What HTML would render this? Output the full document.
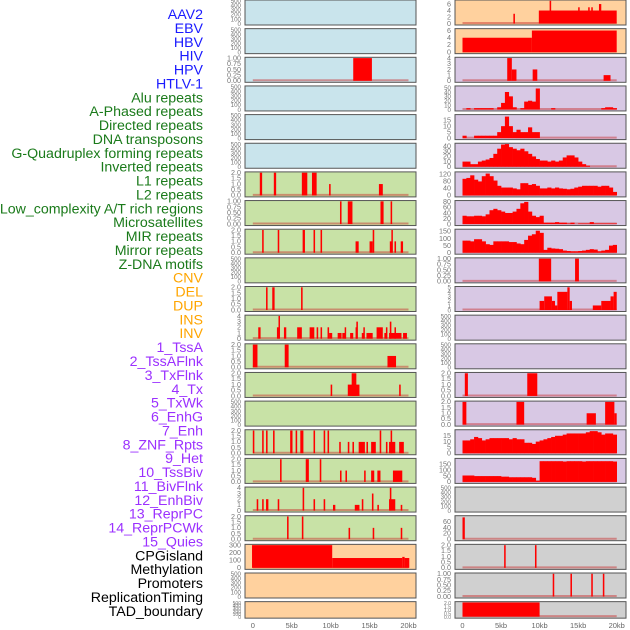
<!DOCTYPE html>
<html><head><meta charset="utf-8">
<style>
html,body{margin:0;padding:0;background:#fff;}
svg{display:block;}
text{font-family:"Liberation Sans",sans-serif;}
</style></head>
<body>
<svg id="chart" width="630" height="630" viewBox="0 0 630 630" xmlns="http://www.w3.org/2000/svg"></svg>
<script>
// ---- labels ----
const trackLabels = ["AAV2","EBV","HBV","HIV","HPV","HTLV-1","Alu repeats","A-Phased repeats","Directed repeats","DNA transposons","G-Quadruplex forming repeats","Inverted repeats","L1 repeats","L2 repeats","Low_complexity A/T rich regions","Microsatellites","MIR repeats","Mirror repeats","Z-DNA motifs","CNV","DEL","DUP","INS","INV","1_TssA","2_TssAFlnk","3_TxFlnk","4_Tx","5_TxWk","6_EnhG","7_Enh","8_ZNF_Rpts","9_Het","10_TssBiv","11_BivFlnk","12_EnhBiv","13_ReprPC","14_ReprPCWk","15_Quies","CPGisland","Methylation","Promoters","ReplicationTiming","TAD_boundary"];
const labelGroups = [6,13,5,15,5];
const groupColors = ["#1a1aff","#1a7a1a","#ffa500","#9b30ff","#000000"];
const xTickLabels = ["0","5kb","10kb","15kb","20kb"];
const xTickValues = [0,5,10,15,20];

// ---- left column: backgrounds, ticks, bars [startKb,endKb,value] ----
const leftBg = ["#c9e4ec","#c9e4ec","#c9e4ec","#c9e4ec","#c9e4ec","#c9e4ec","#c8e2a6","#c8e2a6","#c8e2a6","#c8e2a6","#c8e2a6","#c8e2a6","#c8e2a6","#c8e2a6","#c8e2a6","#c8e2a6","#c8e2a6","#c8e2a6","#c8e2a6","#ffd19e","#ffd19e","#ffd19e"];
const T500 = ["0","100","200","300","400","500"];
const T1 = ["0.00","0.25","0.50","0.75","1.00"];
const T2 = ["0.0","0.5","1.0","1.5","2.0"];
const T4 = ["0","1","2","3","4"];
const leftTicks = [T500,T500,T1,T500,T500,T500,T2,T1,T2,T500,T2,T4,T2,T2,T500,T2,T2,T4,T2,["0","100","200","300"],T500,T500];
const leftBars = [
 [],[],
 [[12.9,15.3,1]],
 [],[],[],
 [[0.9,1.2,2],[2.7,3.0,2],[6.3,7.0,2],[7.6,8.2,2],[9.8,10.0,1],[16.2,16.7,1]],
 [[11.2,11.4,1],[12.2,12.8,1],[16.4,16.8,1],[17.7,17.9,1]],
 [[1.2,1.4,2],[3.2,3.4,2],[6.4,6.7,2],[7.8,8.0,2],[8.7,8.9,2],[13.2,13.6,1],[15.0,15.4,1],[15.4,15.6,2],[17.6,17.9,1],[17.8,17.9,2],[18.2,18.4,1],[19.0,19.3,1]],
 [],
 [[1.7,1.9,2],[2.5,2.8,2],[6.2,6.4,2]],
 [[0.7,1.0,2],[3.1,3.4,2],[3.3,3.4,4],[4.0,4.3,2],[5.7,6.3,2],[7.3,7.9,2],[8.2,8.4,2],[8.7,8.9,2],[9.6,9.8,2],[9.8,10.2,1],[10.9,11.4,1],[11.5,11.9,1],[11.8,11.9,2],[12.5,12.9,1],[13.3,13.5,3],[13.2,13.3,2],[14.0,14.3,1],[14.2,14.3,2],[14.6,15.4,1],[15.9,16.7,2],[16.9,17.2,1],[17.1,17.2,2],[17.5,19.1,1],[17.6,17.8,3],[18.2,18.3,2],[19.3,19.8,1]],
 [[0.0,0.6,2],[4.1,4.6,2],[17.3,18.4,1]],
 [[10.0,10.2,1],[12.2,13.7,1],[12.7,13.3,2],[18.8,19.0,1]],
 [],
 [[0,0.2,2],[1.2,1.4,2],[1.7,1.9,2],[2.6,2.8,2],[4.8,5.1,2],[5.5,5.7,2],[6.1,6.5,2],[7.8,8.0,2],[9.1,9.3,2],[9.6,9.8,2],[11.1,11.3,1],[12.2,12.4,1],[12.8,13.0,1],[13.6,14.4,1],[14.6,14.8,1],[15.2,15.8,1],[16.3,16.5,2],[17.1,17.3,1],[17.5,18.3,1],[17.7,17.9,2],[18.8,19.4,1]],
 [[3.5,3.7,2],[6.8,7.2,2],[8.6,8.8,2],[11.2,11.4,1],[11.9,12.1,1],[14.3,14.5,1],[15.2,15.6,1],[16.0,16.4,1],[18.0,19.2,1]],
 [[0.5,0.7,2],[1.2,1.4,2],[1.7,2.0,2],[3.2,3.4,2],[6.4,6.6,4],[7.8,8.0,2],[9.1,9.3,2],[10.3,10.6,1],[13.1,13.7,1],[14.0,14.2,2],[15.3,15.5,3],[16.0,16.2,1],[17.5,18.3,2],[17.6,17.8,4],[19.0,19.2,1]],
 [[4.4,4.6,2],[6.3,6.5,2],[12.3,12.5,1],[15.4,15.6,1],[19.0,19.2,1]],
 [[-0.1,10.2,300],[10.2,19.2,130],[19.2,19.5,145],[19.5,20.1,130]],
 [],[]
];
const leftMax = [500,500,1,500,500,500,2,1,2,500,2,4,2,2,500,2,2,4,2,300,500,500];

// ---- right column ----
const rightBg = ["#ffd19e","#ffd19e","#d8c8e4","#d8c8e4","#d8c8e4","#d8c8e4","#d8c8e4","#d8c8e4","#d8c8e4","#d8c8e4","#d8c8e4","#d8c8e4","#d8c8e4","#d8c8e4","#d8c8e4","#d8c8e4","#d8c8e4","#d0d0d0","#d0d0d0","#d0d0d0","#d0d0d0","#d0d0d0"];
const rightTicks = [["0","2","4","6"],["0","2","4","6"],T4,["0","10","20","30","40","50"],["0","5","10","15"],["0","10","20","30","40"],["0","40","80","120"],["0","20","40","60","80"],["0","50","100","150"],T1,["0","1","2","3","4","5"],T500,T500,T2,T2,["0","5","10","15"],["0","50","100","150"],T500,["0","20","40","60"],T2,T1,T2];
const rightMax = [7,6.3,4,52,19,44,130,82,160,1,5,500,500,2,2,19.5,195,500,78,2,1,2];
// binned step series (0.5kb bins) for dense tracks
const binsAlu = [0,3,0,3,3,3,3,3,0,5,15,40,30,5,0,3,18,20,18,48,0,0,0,3,0,0,0,0,0,0,0,0,0,0,0,0,3,5,5,3];
const binsAPhased = [2,0,0,2,2,2,2,2,2,5,10,18,10,5,7,5,5,9,5,5,0,0,0,0,0,0,0,0,0,0,0,0,0,0,0,0,0,0,0,0];
const binsDNA = [10,10,5,5,10,12,14,17,25,35,43,44,38,35,32,35,30,25,20,15,12,12,10,12,10,12,18,22,22,18,10,5,2,0,0,0,0,0,0,0];
const binsGQuad = [95,100,115,90,80,110,125,110,85,55,45,45,45,40,35,70,70,60,65,55,40,40,45,40,45,40,38,35,38,45,50,55,55,55,55,50,55,55,45,20];
const binsInverted = [30,28,28,30,30,28,35,50,55,50,45,40,40,45,55,75,80,45,30,25,30,5,5,5,7,5,5,2,5,0,2,2,2,7,2,2,2,2,2,2];
const binsL1 = [85,85,80,95,95,80,60,55,80,80,80,80,75,75,65,60,90,120,130,155,140,20,35,30,28,25,15,12,10,10,12,15,20,25,22,10,15,20,50,55];
const bins7Enh = [11,11,12,14,13,11,12,13,13,13,13,13,12,13,12,12,9,9,8,10,11,12,13,14,15,15,16,17,17,17,17,17,18,19,19,18,16,17,17,16];
const bins8ZNF = [55,55,55,50,50,50,50,50,50,50,45,45,40,40,40,40,40,40,35,10,178,178,178,178,178,178,175,178,178,178,178,175,178,178,178,178,178,178,178,175];
const rightBins = {3:binsAlu,4:binsAPhased,5:binsDNA,6:binsGQuad,7:binsInverted,8:binsL1,15:bins7Enh,16:bins8ZNF};
const rightBars = [
 [[6.6,6.8,3],[9.9,20,4],[11.3,11.5,7],[15.0,15.2,5],[16.3,16.5,5],[16.7,16.9,5],[17.7,18.0,6]],
 [[0,9.0,4],[9.0,20,6]],
 [[5.8,6.4,4],[6.4,7.0,2],[9.1,9.7,2],[18.3,19.2,1]],
 [],[],[],[],[],[],
 [[9.9,11.5,1],[14.6,15.1,1]],
 [[10,10.6,2],[10.6,11.6,3],[11.6,12,2],[12,12.3,1],[12.3,13.6,4],[13.6,13.9,5],[13.9,14.2,2],[16.9,18,1],[18,19.2,2],[19.2,19.6,3],[19.6,20,4]],
 [],[],
 [[0.3,0.7,2],[8.4,9.7,2]],
 [[0,0.5,2],[7.0,8.0,2],[16.1,17.3,1],[18.5,19.7,2],[19.7,20,1]],
 [],[],[],
 [[0,0.3,75]],
 [[5.4,5.6,2],[9.4,9.6,2]],
 [[11.7,11.9,1],[14.0,14.2,1],[16.7,16.9,1],[18.2,18.4,1]],
 [[0,10,2]]
];

const svg = document.getElementById('chart');
const NS = "http://www.w3.org/2000/svg";
function el(tag, attrs, parent){ const e=document.createElementNS(NS,tag); for(const k in attrs) e.setAttribute(k,attrs[k]); (parent||svg).appendChild(e); return e; }

// labels
let li=0;
labelGroups.forEach((n,g)=>{ for(let j=0;j<n;j++){ const y=14+li*13.88;
  const t=el('text',{x:203,y:y+5,'text-anchor':'end','font-size':'14.2',fill:groupColors[g]});
  t.textContent=trackLabels[li];
  
  
  li++; }});

function rowTop(i){ return i*28.65; }
function rowH(i){ return i===21?16.5:25; }

function drawPanel(col, i, bg, ticks, max, bars, bins){
  const px = col===0?245:455, pw=171;
  const x0 = col===0?252.8:462.5, x1 = col===0?408.5:616.7;
  const xs = kb => x0+(x1-x0)*kb/20;
  const top=rowTop(i), h=rowH(i);
  const yTop=top+0.8, yBot=top+h-1.5;
  const ys = v => yBot-(yBot-yTop)*Math.min(v,max)/max;
  const g=el('g',{});
  
  
  const r=el('rect',{x:px,y:top,width:pw,height:h,fill:bg,stroke:'#555',"stroke-width":1},g);
  
  
  const tmax = parseFloat(ticks[ticks.length-1]);
  const fs = h<20?5:(ticks.length>5?6.2:7.2);
  ticks.forEach(tl=>{ const v=parseFloat(tl);
    const yy = yBot-(yBot-yTop)*v/(max>tmax?max:tmax);
    const yv = (bars.length||bins)? ys(v) : yy;
    const t=el('text',{x:px-4,y:yv+2.3,'text-anchor':'end','font-size':fs,fill:'#777'},g);
    t.textContent=tl;
    
    
  });
  const hasData = bars.length||bins;
  if(hasData){
    const bl=el('line',{x1:xs(0),x2:xs(20),y1:yBot-0.5,y2:yBot-0.5,stroke:'rgba(200,40,40,0.45)','stroke-width':2},g);
    
    
  }
  if(bins){
    bins.forEach((v,k)=>{ if(v<=0) return;
      const b=el('rect',{x:xs(k*0.5),y:ys(v),width:xs(k*0.5+0.5)-xs(k*0.5)+0.3,height:yBot-ys(v),fill:'#ff0000'},g);
      
      
    });
  }
  bars.forEach(d=>{
    const w=Math.max(1.5,xs(d[1])-xs(d[0]));
    const b=el('rect',{x:xs(d[0]),y:ys(d[2]),width:w,height:yBot-ys(d[2]),fill:'#ff0000'},g);
    
    
  });
}
for(let i=0;i<22;i++){
  drawPanel(0,i,leftBg[i],leftTicks[i],leftMax[i],leftBars[i],null);
  drawPanel(1,i,rightBg[i],rightTicks[i],rightMax[i],rightBars[i],rightBins[i]||null);
}
// x axes
[[252.8,408.5],[462.5,616.7]].forEach((r,c)=>{
  xTickValues.forEach((v,k)=>{
    const t=el('text',{x:r[0]+(r[1]-r[0])*v/20,y:628,'text-anchor':'middle','font-size':'7.5',fill:'#666'});
    t.textContent=xTickLabels[k];
    
    
  });
});
</script>
</body></html>
